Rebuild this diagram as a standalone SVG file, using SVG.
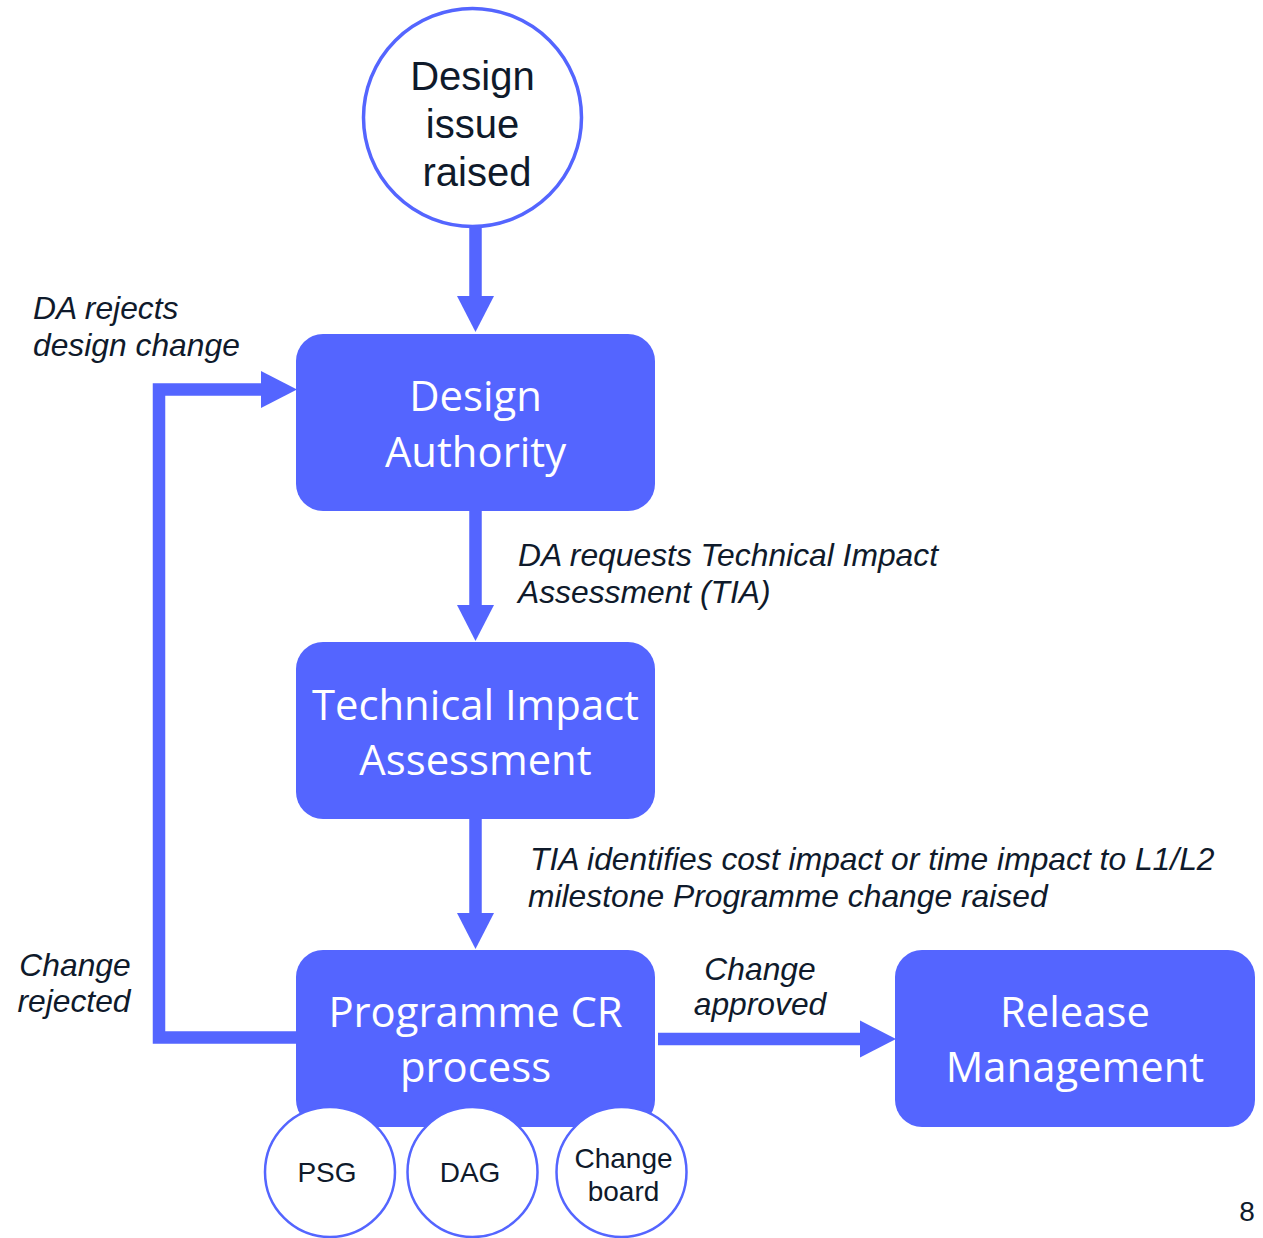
<svg xmlns="http://www.w3.org/2000/svg" width="1263" height="1238" viewBox="0 0 1263 1238">
<style>
.box{fill:#5465FF;}
.circ{fill:#ffffff;stroke:#5465FF;}
.btxt{font-family:"Open Sans","Liberation Sans",sans-serif;font-size:41.8px;fill:#ffffff;text-anchor:middle;}
.ctxt{font-family:"Liberation Sans",Arial,sans-serif;fill:#0f1a2b;text-anchor:middle;}
.lbl{font-family:"Liberation Sans",Arial,sans-serif;font-style:italic;font-size:31.8px;fill:#0f1a2b;}
.conn{fill:none;stroke:#5465FF;stroke-width:12.5;stroke-linejoin:miter;}
</style>
<defs>
<marker id="ah" markerUnits="userSpaceOnUse" markerWidth="37" markerHeight="38" refX="0" refY="18.5" orient="auto" overflow="visible">
<path d="M0,0 L36,18.5 L0,37 Z" fill="#5465FF"/>
</marker>
</defs>
<rect width="1263" height="1238" fill="#ffffff"/>
<g id="connectors">
<line class="conn" x1="475.5" y1="226" x2="475.5" y2="296" marker-end="url(#ah)"/>
<line class="conn" x1="475.5" y1="510" x2="475.5" y2="605" marker-end="url(#ah)"/>
<line class="conn" x1="475.5" y1="818" x2="475.5" y2="913" marker-end="url(#ah)"/>
<polyline class="conn" points="298,1037.5 159,1037.5 159,389.5 261,389.5" marker-end="url(#ah)"/>
<line class="conn" x1="658" y1="1039" x2="860" y2="1039" marker-end="url(#ah)"/>
</g>
<g id="node-design-issue">
<circle class="circ" cx="472.5" cy="117.5" r="109" stroke-width="3.5"/>
<text class="ctxt" font-size="40" x="472.5" y="90">Design</text>
<text class="ctxt" font-size="40" x="472.5" y="138">issue</text>
<text class="ctxt" font-size="40" x="477" y="186">raised</text>
</g>
<g id="node-design-authority">
<rect class="box" x="296" y="334" width="359" height="177" rx="27"/>
<text class="btxt" x="475.5" y="411">Design</text>
<text class="btxt" x="475.5" y="467">Authority</text>
</g>
<g id="node-tia">
<rect class="box" x="296" y="642" width="359" height="177" rx="27"/>
<text class="btxt" x="475.5" y="720">Technical Impact</text>
<text class="btxt" x="475.5" y="775">Assessment</text>
</g>
<g id="node-programme-cr">
<rect class="box" x="296" y="950" width="359" height="177" rx="27"/>
<text class="btxt" x="475.5" y="1027">Programme CR</text>
<text class="btxt" x="475.5" y="1082">process</text>
</g>
<g id="node-release">
<rect class="box" x="895" y="950" width="360" height="177" rx="27"/>
<text class="btxt" x="1075" y="1027">Release</text>
<text class="btxt" x="1075" y="1082">Management</text>
</g>
<g id="node-psg">
<circle class="circ" cx="330" cy="1172" r="65" stroke-width="2.5"/>
<text class="ctxt" font-size="28" x="327" y="1182">PSG</text>
</g>
<g id="node-dag">
<circle class="circ" cx="472.5" cy="1172" r="65" stroke-width="2.5"/>
<text class="ctxt" font-size="28" x="470" y="1182">DAG</text>
</g>
<g id="node-change-board">
<circle class="circ" cx="621.5" cy="1172" r="65" stroke-width="2.5"/>
<text class="ctxt" font-size="28" x="623.5" y="1168">Change</text>
<text class="ctxt" font-size="28" x="623.5" y="1201">board</text>
</g>
<g id="labels">
<text class="lbl" x="33" y="319">DA rejects</text>
<text class="lbl" x="33" y="356">design change</text>
<text class="lbl" x="518" y="566">DA requests Technical Impact</text>
<text class="lbl" x="518" y="603">Assessment (TIA)</text>
<text class="lbl" x="530" y="870">TIA identifies cost impact or time impact to L1/L2</text>
<text class="lbl" x="528" y="907">milestone Programme change raised</text>
<text class="lbl" x="75" y="976" text-anchor="middle">Change</text>
<text class="lbl" x="74" y="1012" text-anchor="middle">rejected</text>
<text class="lbl" x="760" y="980" text-anchor="middle">Change</text>
<text class="lbl" x="760" y="1015" text-anchor="middle">approved</text>
<text x="1247" y="1221" font-family="Liberation Sans, Arial, sans-serif" font-size="28" fill="#0f1a2b" text-anchor="middle">8</text>
</g>
</svg>
